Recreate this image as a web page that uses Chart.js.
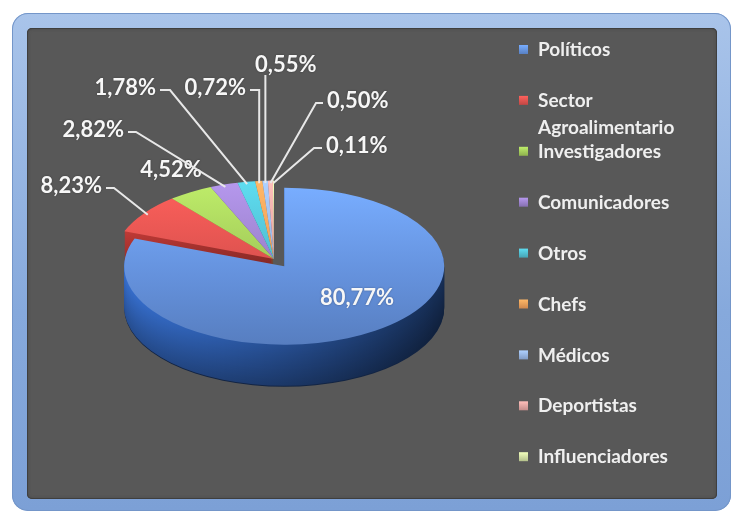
<!DOCTYPE html>
<html lang="es">
<head>
<meta charset="utf-8">
<title>Distribución por perfil</title>
<script src="https://cdn.jsdelivr.net/npm/chart.js@4.4.1/dist/chart.umd.min.js"></script>
<style>
  html, body { margin: 0; padding: 0; background: #fff; }
  #wrap { position: relative; width: 731px; height: 511px; overflow: hidden; }
  .marco {
    position: absolute; left: 12px; top: 13px; width: 719px; height: 498px;
    border-radius: 16px;
    background: linear-gradient(#a9c4ea, #86a9dc 60%, #7ca0d6);
    box-shadow: inset 0 0 0 1px #7496c9;
  }
  .panel {
    position: absolute; left: 27px; top: 28px; width: 690px; height: 471px;
    background: #585858; border-radius: 5px;
    box-shadow: inset 0 0 0 1px #3f3f3f, inset 0 0 3px 1px #4a4a4a;
  }
  #chartBox { position: absolute; left: 0; top: 0; width: 731px; height: 511px; }
</style>
</head>
<body>
<div id="wrap">
  <div class="marco"></div>
  <div class="panel"></div>
  <div id="chartBox"><canvas id="perfiles"></canvas></div>
</div>
<script>
const categorias = ['Políticos', ['Sector', 'Agroalimentario'], 'Investigadores', 'Comunicadores', 'Otros', 'Chefs', 'Médicos', 'Deportistas', 'Influenciadores'];
const porcentajes = [80.77, 8.23, 4.52, 2.82, 1.78, 0.72, 0.55, 0.50, 0.11];

// colores de la cara superior y del canto de cada porción
const colorCara = [[104, 150, 228], [226, 84, 80], [166, 207, 92], [158, 132, 207], [82, 192, 210], [245, 160, 90], [152, 182, 230], [230, 166, 163], [211, 226, 164]];
const colorCanto = [[42, 86, 160], [150, 45, 42], [100, 138, 44], [92, 69, 134], [42, 127, 142], [176, 100, 42], [90, 119, 166], [160, 100, 98], [142, 156, 102]];
const separacion = [18, 0, 0, 0, 0, 0, 0, 0, 0];

const RADIO = 160;
const INCLINACION = 0.49;
const GROSOR = 42;
const CENTRO_Y = 259;

// posición de cada etiqueta de porcentaje y quiebre de su línea guía
const colocacion = [
  { x: 357, y: 298, align: 'center' },
  { x: 102, y: 186, align: 'right', codo: 114 },
  { x: 171, y: 170, align: 'center' },
  { x: 124, y: 130, align: 'right', codo: 136 },
  { x: 156, y: 88, align: 'right', codo: 170 },
  { x: 246, y: 88, align: 'right', codo: 'x' },
  { x: 255, y: 65, align: 'left', codo: 'abajo' },
  { x: 327, y: 101, align: 'left', codo: 316 },
  { x: 326, y: 146, align: 'left', codo: 314 }
];

const formatear = v => v.toFixed(2).replace('.', ',') + '%';

function rgb(c, f) {
  const k = v => Math.max(0, Math.min(255, Math.round(v * f)));
  return 'rgb(' + k(c[0]) + ',' + k(c[1]) + ',' + k(c[2]) + ')';
}

function desplazar(arc, i) {
  const m = (arc.startAngle + arc.endAngle) / 2;
  return { x: Math.cos(m) * separacion[i], y: Math.sin(m) * separacion[i] };
}

function puntoCara(arc, i, f) {
  const s = desplazar(arc, i);
  const m = (arc.startAngle + arc.endAngle) / 2;
  const px = arc.x + s.x + Math.cos(m) * arc.outerRadius * f;
  const py = arc.y + s.y + Math.sin(m) * arc.outerRadius * f;
  return { x: px, y: CENTRO_Y + (py - arc.y) * INCLINACION };
}

function dibujarCanto(ctx, arc, i) {
  const s = desplazar(arc, i);
  const r = arc.outerRadius;
  for (let d = GROSOR; d >= 1; d--) {
    const dy = d / INCLINACION;
    const v = 1.05 - 0.32 * d / GROSOR;
    const g = ctx.createLinearGradient(arc.x - r, 0, arc.x + r, 0);
    g.addColorStop(0, rgb(colorCanto[i], 1.25 * v));
    g.addColorStop(0.45, rgb(colorCanto[i], 0.92 * v));
    g.addColorStop(1, rgb(colorCanto[i], 0.52 * v));
    ctx.fillStyle = d === GROSOR ? rgb(colorCanto[i], 0.42) : g;
    ctx.beginPath();
    ctx.moveTo(arc.x + s.x, arc.y + s.y + dy);
    ctx.arc(arc.x + s.x, arc.y + s.y + dy, r, arc.startAngle, arc.endAngle);
    ctx.closePath();
    ctx.fill();
  }
}

const tarta3d = {
  id: 'tarta3d',
  beforeDatasetsDraw(chart) {
    const ctx = chart.ctx;
    const arcs = chart.getDatasetMeta(0).data;
    ctx.save();
    ctx.translate(0, CENTRO_Y);
    ctx.scale(1, INCLINACION);
    ctx.translate(0, -arcs[0].y);
    // cantos de atrás hacia delante
    const frente = a => Math.sin((a.startAngle + a.endAngle) / 2);
    arcs.map((a, i) => i)
      .sort((a, b) => frente(arcs[a]) - frente(arcs[b]))
      .forEach(i => dibujarCanto(ctx, arcs[i], i));
    arcs.forEach((arc, i) => {
      const s = desplazar(arc, i);
      ctx.save();
      ctx.translate(s.x, s.y);
      arc.draw(ctx);
      ctx.restore();
    });
    ctx.restore();
    return false;
  },
  afterDraw(chart) {
    const ctx = chart.ctx;
    const arcs = chart.getDatasetMeta(0).data;

    // etiquetas con sus líneas guía
    ctx.save();
    ctx.font = 'bold 22px Lato';
    ctx.textBaseline = 'middle';
    ctx.strokeStyle = '#e8e8e8';
    ctx.lineWidth = 2;
    arcs.forEach((arc, i) => {
      const c = colocacion[i];
      const p = puntoCara(arc, i, 0.97);
      ctx.fillStyle = '#f7f7f7';
      ctx.textAlign = c.align;
      ctx.shadowColor = 'rgba(0,0,0,0.35)';
      ctx.shadowBlur = 2;
      ctx.fillText(formatear(porcentajes[i]), c.x, c.y);
      ctx.shadowBlur = 0;
      if (c.codo === undefined) return;
      ctx.beginPath();
      if (c.codo === 'abajo') {
        ctx.moveTo(p.x, c.y + 10);
      } else {
        const x0 = c.align === 'right' ? c.x + 4 : c.x - 4;
        const xc = c.codo === 'x' ? p.x : c.codo;
        ctx.moveTo(x0, c.y + 2);
        ctx.lineTo(xc, c.y + 2);
      }
      ctx.lineTo(p.x, p.y);
      ctx.stroke();
    });
    ctx.restore();

    // leyenda
    ctx.save();
    ctx.font = 'bold 19px Lato';
    ctx.textBaseline = 'middle';
    ctx.textAlign = 'left';
    categorias.forEach((cat, i) => {
      const y = 50 + i * 50.9;
      const g = ctx.createLinearGradient(0, y - 5, 0, y + 4);
      g.addColorStop(0, rgb(colorCara[i], 1.15));
      g.addColorStop(1, rgb(colorCara[i], 0.85));
      ctx.fillStyle = g;
      ctx.fillRect(519, y - 5, 9, 9);
      ctx.fillStyle = '#efefef';
      const lineas = Array.isArray(cat) ? cat : [cat];
      lineas.forEach((t, k) => ctx.fillText(t, 538, y + k * 27));
    });
    ctx.restore();
  }
};

new Chart(document.getElementById('perfiles'), {
  type: 'pie',
  data: {
    labels: categorias,
    datasets: [{
      data: porcentajes,
      radius: RADIO,
      borderWidth: 0,
      backgroundColor: (c) => {
        const i = c.dataIndex;
        if (i === undefined) return '#888';
        const area = c.chart.chartArea;
        if (!area) return rgb(colorCara[i], 1);
        const cy = (area.top + area.bottom) / 2;
        const g = c.chart.ctx.createLinearGradient(0, cy - RADIO, 0, cy + RADIO);
        g.addColorStop(0, rgb(colorCara[i], 1.15));
        g.addColorStop(0.55, rgb(colorCara[i], 0.97));
        g.addColorStop(1, rgb(colorCara[i], 0.84));
        return g;
      }
    }]
  },
  options: {
    responsive: true,
    maintainAspectRatio: false,
    animation: false,
    events: [],
    layout: { padding: { left: 0, right: 183, top: 0, bottom: 0 } },
    plugins: {
      legend: { display: false },
      tooltip: { enabled: false }
    }
  },
  plugins: [tarta3d]
});
</script>
</body>
</html>
